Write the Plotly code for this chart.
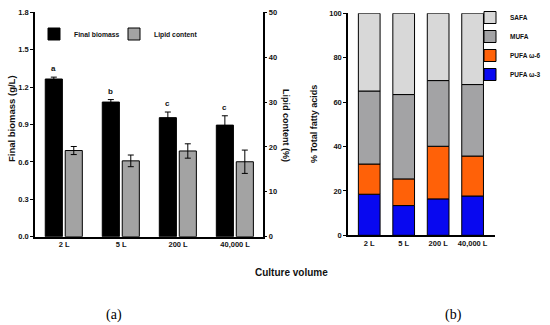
import numpy as np
import plotly.graph_objects as go

# ---------------- data ----------------
categories = ["2 L", "5 L", "200 L", "40,000 L"]
biomass = [1.265, 1.08, 0.955, 0.895]
biomass_err = [0.015, 0.02, 0.045, 0.075]
biomass_letters = ["a", "b", "c", "c"]
lipid = [19.2, 16.9, 19.1, 16.7]
lipid_err = [0.9, 1.3, 1.6, 2.6]

pufa_w3 = [18.5, 13.4, 16.4, 17.7]
pufa_w6 = [13.6, 12.0, 23.7, 18.0]
mufa = [32.9, 38.0, 29.6, 32.2]
safa = [35.0, 36.6, 30.3, 32.1]

W, H = 550, 325
def px(x):
    return x / W
def py(y):
    return 1 - y / H

FONT = "Liberation Sans"
xs = list(range(len(categories)))

fig = go.Figure()

# ---- left chart ----
fig.add_trace(go.Bar(
    x=xs, y=biomass, name="Final biomass",
    marker=dict(color="#000000", line=dict(color="#000000", width=1)),
    width=0.3, offset=-0.33,
    error_y=dict(type="data", array=biomass_err, color="#000000", thickness=1, width=3),
    xaxis="x", yaxis="y", legend="legend",
))
fig.add_trace(go.Bar(
    x=xs, y=lipid, name="Lipid content",
    marker=dict(color="#a3a3a3", line=dict(color="#000000", width=1)),
    width=0.3, offset=0.02,
    error_y=dict(type="data", array=lipid_err, color="#000000", thickness=1, width=3),
    xaxis="x", yaxis="y2", legend="legend3",
))

# ---- right chart (stacked) ----
stack_series = [
    ("PUFA ω-3", pufa_w3, "#0808f0"),
    ("PUFA ω-6", pufa_w6, "#ff6108"),
    ("MUFA", mufa, "#a3a3a5"),
    ("SAFA", safa, "#d8d8d8"),
]
base = np.zeros(len(categories))
for name, vals, col in stack_series:
    vals = np.array(vals, dtype=float)
    fig.add_trace(go.Bar(
        x=xs, y=vals, base=base.copy(), name=name,
        marker=dict(color=col, line=dict(color="#000000", width=1)),
        width=0.63,
        xaxis="x3", yaxis="y3", legend="legend2",
    ))
    base = base + vals

tickfont = dict(family=FONT, size=7.5, color="#111111", weight="bold")

annotations = []
for i, (v, e, t) in enumerate(zip(biomass, biomass_err, biomass_letters)):
    annotations.append(dict(
        x=i - 0.18, y=v + e, xref="x", yref="y", text=t, showarrow=False,
        xanchor="center", yanchor="bottom", yshift=2,
        font=dict(family=FONT, size=8, color="#111111", weight="bold"),
    ))

def label(x, y, text, angle=0, size=9, family=FONT, bold=True):
    return dict(x=px(x), y=py(y), xref="paper", yref="paper", text=text,
                textangle=angle, showarrow=False, xanchor="center", yanchor="middle",
                font=dict(family=family, size=size, color="#111111" if bold else "#000000",
                          weight="bold" if bold else "normal"))

annotations += [
    label(11, 119, "Final biomass (g/L)", -90, 9.5),
    label(286, 125, "Lipid content (%)", 90, 9),
    label(291, 272, "Culture volume", 0, 10),
    label(314, 124, "% Total fatty acids", -90, 9),
    label(114, 315, "(a)", 0, 14, "Liberation Serif", False),
    label(453, 315, "(b)", 0, 14, "Liberation Serif", False),
]

axis_common = dict(showline=True, linecolor="#000000", linewidth=1.5, showgrid=False,
                   zeroline=False, tickfont=tickfont, ticks="outside", ticklen=3,
                   tickwidth=1.2, tickcolor="#000000", automargin=False)

legend_font = dict(family=FONT, size=6.8, color="#111111", weight="bold")

fig.update_layout(
    width=W, height=H,
    margin=dict(l=0, r=0, t=0, b=0, autoexpand=False),
    paper_bgcolor="white", plot_bgcolor="white",
    barmode="overlay",
    font=dict(family=FONT, color="#111111"),
    xaxis=dict(domain=[px(35), px(262.5)], range=[-0.51, 3.48],
               tickvals=xs, ticktext=categories, anchor="y",
               showline=True, linecolor="#000000", linewidth=1.5, showgrid=False,
               zeroline=False, tickfont=tickfont, ticks="", automargin=False),
    yaxis=dict(domain=[py(236.7), py(12.3)], range=[0, 1.8], anchor="x",
               tickvals=[0, 0.3, 0.6, 0.9, 1.2, 1.5, 1.8], tickformat=".1f",
               **axis_common),
    yaxis2=dict(overlaying="y", side="right", anchor="x", range=[0, 50],
                tickvals=[0, 10, 20, 30, 40, 50], **axis_common),
    xaxis3=dict(domain=[px(348), px(495)], range=[-0.616, 3.65],
                tickvals=xs, ticktext=categories, anchor="y3",
                showline=True, linecolor="#000000", linewidth=1.5, showgrid=False,
                zeroline=False, tickfont=tickfont, ticks="", automargin=False),
    yaxis3=dict(domain=[py(235.3), py(13.3)], range=[0, 100], anchor="x3",
                tickvals=[0, 20, 40, 60, 80, 100], **axis_common),
    legend=dict(orientation="h", x=px(34), y=py(34), xanchor="left", yanchor="middle",
                bgcolor="rgba(0,0,0,0)", font=legend_font, itemwidth=30),
    legend3=dict(orientation="h", x=px(114), y=py(34), xanchor="left", yanchor="middle",
                 bgcolor="rgba(0,0,0,0)", font=legend_font, itemwidth=30, visible=True),
    legend2=dict(orientation="v", x=px(470), y=py(3), xanchor="left", yanchor="top",
                 bgcolor="rgba(0,0,0,0)", font=dict(family=FONT, size=6.5, color="#111111", weight="bold"),
                 itemwidth=30, traceorder="reversed", tracegroupgap=0),
    annotations=annotations,
    showlegend=True,
)

fig.write_html("out.html", config={"displayModeBar": False},
               post_script="document.body.style.margin='0';document.body.style.padding='0';")
